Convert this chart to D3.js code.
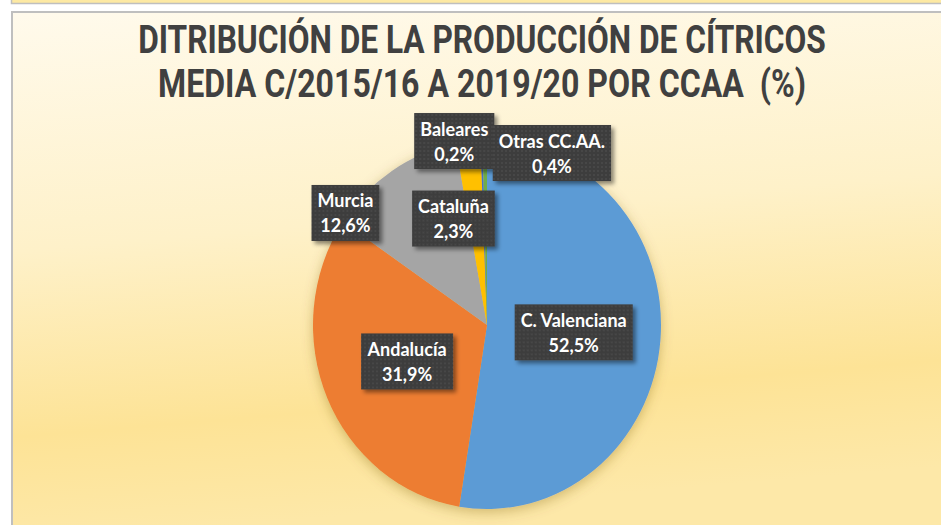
<!DOCTYPE html>
<html>
<head>
<meta charset="utf-8">
<script src="https://cdn.jsdelivr.net/npm/d3@7"></script>
<style>
  html, body { margin: 0; padding: 0; background: #fff; }
  svg { display: block; }
</style>
</head>
<body>
<div id="chart"></div>
<script>
(function(){
    // data
    var regions   = ['C. Valenciana', 'Andalucía', 'Murcia', 'Cataluña', 'Baleares', 'Otras CC.AA.'];
    var shares    = [52.5, 31.9, 12.6, 2.3, 0.2, 0.4];
    var titleRows = ['DITRIBUCIÓN DE LA PRODUCCIÓN DE CÍTRICOS', 'MEDIA C/2015/16 A 2019/20 POR CCAA  (%)'];

    var colours   = ['#5b9bd5', '#ed7d31', '#a5a5a5', '#ffc000', '#4472c4', '#70ad47'];
    // Excel moved the small labels by hand; offsets from the slice centroid
    var labelNudge = [[0, 0], [0, 0], [-94, -35], [-24, -15], [-30, -92], [66, -80]];

    var WIDTH   = 941,
        HEIGHT  = 525,
        CX      = 487,
        CY      = 325,
        RX      = 174,
        RY      = 184;

    var svg = d3.select('#chart')
        .append('svg')
        .attr('width', WIDTH)
        .attr('height', HEIGHT);

    var defs = svg.append('defs');

    var bg = defs.append('linearGradient')
        .attr('id', 'bg')
        .attr('x1', 0).attr('y1', 0).attr('x2', 0.15).attr('y2', 1);
    bg.append('stop').attr('offset', 0).attr('stop-color', '#fffaec');
    bg.append('stop').attr('offset', 0.45).attr('stop-color', '#fef1c9');
    bg.append('stop').attr('offset', 0.8).attr('stop-color', '#fde396');
    bg.append('stop').attr('offset', 1).attr('stop-color', '#fde8a8');

    var pieShadow = defs.append('filter').attr('id', 'pieShadow')
        .attr('x', '-20%').attr('y', '-20%').attr('width', '140%').attr('height', '140%');
    pieShadow.append('feDropShadow')
        .attr('dx', 0).attr('dy', 3).attr('stdDeviation', 6)
        .attr('flood-color', '#7a5a00').attr('flood-opacity', 0.35);

    var boxShadow = defs.append('filter').attr('id', 'boxShadow')
        .attr('x', '-20%').attr('y', '-20%').attr('width', '150%').attr('height', '150%');
    boxShadow.append('feDropShadow')
        .attr('dx', 3).attr('dy', 3).attr('stdDeviation', 2)
        .attr('flood-color', '#000').attr('flood-opacity', 0.45);

    var dots = defs.append('pattern').attr('id', 'dots')
        .attr('width', 4).attr('height', 4).attr('patternUnits', 'userSpaceOnUse');
    dots.append('rect').attr('width', 4).attr('height', 4).attr('fill', '#3d3d3d');
    dots.append('circle').attr('cx', 2).attr('cy', 2).attr('r', 0.7).attr('fill', '#575757');

    // frames
    svg.append('rect')
        .attr('x', 11.5).attr('y', -6).attr('width', 940).attr('height', 9.5)
        .attr('fill', '#fde9a3').attr('stroke', '#bfbfbf').attr('stroke-width', 1.5);

    svg.append('rect')
        .attr('x', 12).attr('y', 12).attr('width', 940).attr('height', 520)
        .attr('fill', 'url(#bg)').attr('stroke', '#bfbfbf').attr('stroke-width', 2);

    // title: condensed face, stretched to the reference width with a scale
    var titleWidths = [688, 648];
    svg.append('g').selectAll('text')
        .data(titleRows)
        .enter().append('text')
        .attr('text-anchor', 'middle')
        .style('white-space', 'pre')
        .style('font-family', '"Liberation Sans Narrow", Roboto, "Liberation Sans", sans-serif')
        .style('font-weight', 700)
        .style('font-size', '39px')
        .attr('fill', '#404040')
        .text(function(d){ return d; })
        .attr('transform', function(d, i){
            var natural = this.getComputedTextLength();
            var sx = titleWidths[i] / natural;
            return 'translate(482,' + (53 + i * 44) + ') scale(' + sx + ',1)';
        });

    // pie
    var pie = d3.pie().sort(null).value(function(d){ return d; });
    var arcs = pie(shares);

    var arc = d3.arc().innerRadius(0).outerRadius(RX);

    svg.append('g')
        .attr('filter', 'url(#pieShadow)')
        .attr('transform', 'translate(' + CX + ',' + CY + ') scale(1,' + (RY / RX) + ')')
        .selectAll('path')
        .data(arcs)
        .enter().append('path')
        .attr('d', arc)
        .attr('fill', function(d, i){ return colours[i]; });

    // data labels
    var fmt = function(v){ return d3.format('.1f')(v).replace('.', ',') + '%'; };

    var labelG = svg.append('g');
    arcs.forEach(function(d, i){
        var c = arc.centroid(d);
        var lx = CX + c[0] + labelNudge[i][0],
            ly = CY + c[1] * RY / RX + labelNudge[i][1];

        var g = labelG.append('g').attr('transform', 'translate(' + lx + ',' + ly + ')');
        var box = g.append('rect')
            .attr('fill', 'url(#dots)')
            .attr('filter', 'url(#boxShadow)');

        var t = g.append('text')
            .attr('text-anchor', 'middle')
            .style('font-family', 'Lato, "Open Sans", sans-serif')
            .style('font-weight', 700)
            .style('font-size', '18px')
            .attr('fill', '#fff');
        t.append('tspan').attr('x', 0).attr('y', -5.5).text(regions[i]);
        t.append('tspan').attr('x', 0).attr('y', 19.5).text(fmt(shares[i]));

        var w = t.node().getBBox().width + 12;
        box.attr('x', -w / 2).attr('y', -28).attr('width', w).attr('height', 56);
    });

})();
</script>
</body>
</html>
